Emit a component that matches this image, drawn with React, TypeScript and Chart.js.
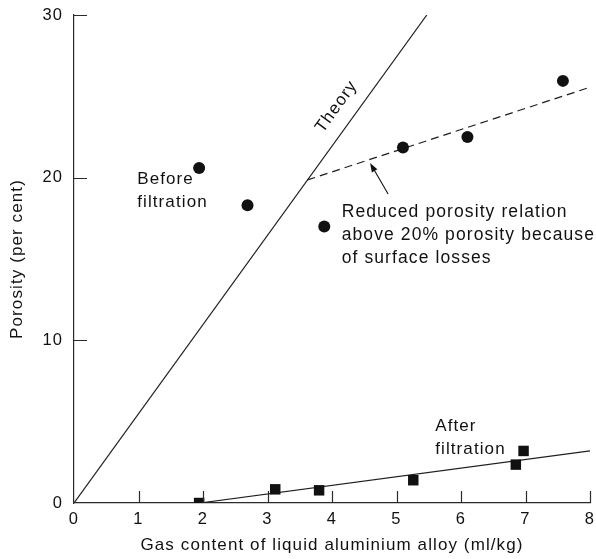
import React, { useEffect, useRef } from 'react';
import { Chart, registerables } from 'chart.js';

Chart.register(...registerables);

// ---- data ----
const beforeGas = [1.94, 2.69, 3.88, 5.1, 6.1, 7.58];
const beforePorosity = [20.6, 18.3, 17.0, 21.85, 22.5, 25.95];
const afterGas = [1.94, 3.12, 3.8, 5.26, 6.85, 6.97];
const afterPorosity = [0.0, 0.84, 0.78, 1.4, 2.36, 3.2];
const theoryGas = [0, 5.47];
const theoryPorosity = [0, 30];
const reducedGas = [3.62, 8];
const reducedPorosity = [19.86, 25.56];
const afterFitGas = [1.95, 8];
const afterFitPorosity = [0, 3.2];
const xTicks = [0, 1, 2, 3, 4, 5, 6, 7, 8];
const yTicks = [0, 10, 20, 30];
const xTitle = 'Gas content of liquid aluminium alloy (ml/kg)';
const yTitle = 'Porosity (per cent)';
const beforeNote = ['Before', 'filtration'];
const afterNote = ['After', 'filtration'];
const reducedNote = ['Reduced porosity relation', 'above 20% porosity because', 'of surface losses'];
const theoryNote = 'Theory';

const FONT = '"Liberation Sans", Arial, Helvetica, sans-serif';
const INK = '#111111';
const AXIS = '#2a2a2a';
const LS = '1.1px';
const RIGHT_GAP = 6;

const pts = (xs: number[], ys: number[]) => xs.map((v, i) => ({ x: v, y: ys[i] }));

const spacingPlugin = {
  id: 'spacing',
  beforeLayout(chart: any) { chart.ctx.letterSpacing = LS; },
  afterLayout(chart: any) {
    const ca = chart.chartArea;
    const x = chart.scales.x;
    const target = chart.width - RIGHT_GAP;
    if (ca && x && Math.abs(ca.right - target) > 0.01) {
      ca.right = target;
      ca.width = ca.right - ca.left;
      x.right = target;
      x.width = target - x.left;
      x.configure();
    }
  },
  beforeDraw(chart: any) { chart.ctx.letterSpacing = LS; },
};

const ticksPlugin = {
  id: 'inwardTicks',
  afterDraw(chart: any) {
    const { ctx, chartArea, scales } = chart;
    const x = scales.x, y = scales.y;
    ctx.save();
    ctx.strokeStyle = AXIS;
    ctx.lineWidth = 1.2;
    ctx.beginPath();
    yTicks.filter((v) => v > 0).forEach((v) => {
      const py = Math.round(y.getPixelForValue(v)) + 0.5;
      ctx.moveTo(chartArea.left, py);
      ctx.lineTo(chartArea.left + 13, py);
    });
    xTicks.filter((v) => v > 0).forEach((v) => {
      const px = Math.round(x.getPixelForValue(v)) + 0.5;
      ctx.moveTo(px, chartArea.bottom);
      ctx.lineTo(px, chartArea.bottom - 12);
    });
    ctx.stroke();
    ctx.restore();
  },
};

const notesPlugin = {
  id: 'notes',
  afterDatasetsDraw(chart: any) {
    const { ctx, scales } = chart;
    const x = scales.x, y = scales.y;
    ctx.save();
    ctx.letterSpacing = LS;
    ctx.fillStyle = INK;
    ctx.textAlign = 'left';
    ctx.textBaseline = 'alphabetic';
    const block = (lines: string[], gx: number, gy: number, lh: number) => {
      const px = x.getPixelForValue(gx);
      const py = y.getPixelForValue(gy);
      lines.forEach((t, i) => ctx.fillText(t, px, py + i * lh));
    };
    ctx.font = `17px ${FONT}`;
    block(beforeNote, 0.98, 19.59, 22.4);
    block(afterNote, 5.6, 4.43, 22.6);
    ctx.font = `17.5px ${FONT}`;
    block(reducedNote, 4.15, 17.6, 23.3);

    // Theory label along the theory line
    const x0 = x.getPixelForValue(theoryGas[0]);
    const y0 = y.getPixelForValue(theoryPorosity[0]);
    const x1 = x.getPixelForValue(theoryGas[1]);
    const y1 = y.getPixelForValue(theoryPorosity[1]);
    const ang = Math.atan2(y1 - y0, x1 - x0);
    ctx.save();
    ctx.font = `17px ${FONT}`;
    ctx.translate(x.getPixelForValue(4.07), y.getPixelForValue(24.37));
    ctx.rotate(ang);
    ctx.textAlign = 'center';
    ctx.textBaseline = 'middle';
    ctx.fillText(theoryNote, 0, 0);
    ctx.restore();

    // arrow pointing to the dashed line
    const ax = x.getPixelForValue(4.87), ay = y.getPixelForValue(19.0);
    const bx = x.getPixelForValue(4.59), by = y.getPixelForValue(20.9);
    const a = Math.atan2(by - ay, bx - ax);
    ctx.strokeStyle = INK;
    ctx.lineWidth = 1.1;
    ctx.beginPath();
    ctx.moveTo(ax, ay);
    ctx.lineTo(bx - Math.cos(a) * 5, by - Math.sin(a) * 5);
    ctx.stroke();
    const hl = 9, hw = 3.2;
    ctx.beginPath();
    ctx.moveTo(bx, by);
    ctx.lineTo(bx - hl * Math.cos(a) + hw * Math.sin(a), by - hl * Math.sin(a) - hw * Math.cos(a));
    ctx.lineTo(bx - hl * Math.cos(a) - hw * Math.sin(a), by - hl * Math.sin(a) + hw * Math.cos(a));
    ctx.closePath();
    ctx.fill();
    ctx.restore();
  },
};

export default function App() {
  const ref = useRef<HTMLCanvasElement | null>(null);

  useEffect(() => {
    document.body.style.margin = '0';
    const canvas = ref.current;
    if (!canvas) return;
    const lineStyle = { showLine: true, pointRadius: 0, borderColor: '#1e1e1e', borderWidth: 1.2, fill: false };
    const chart = new Chart(canvas, {
      type: 'scatter',
      data: {
        datasets: [
          {
            label: 'Before filtration',
            data: pts(beforeGas, beforePorosity),
            pointStyle: 'circle',
            pointRadius: 6,
            backgroundColor: '#111111',
            borderWidth: 0,
          },
          {
            label: 'After filtration',
            data: pts(afterGas, afterPorosity),
            pointStyle: 'rect',
            pointRadius: 7.4,
            backgroundColor: '#111111',
            borderWidth: 0,
          },
          { label: 'Theory', data: pts(theoryGas, theoryPorosity), ...lineStyle },
          { label: 'Reduced', data: pts(reducedGas, reducedPorosity), ...lineStyle, borderDash: [8, 5] },
          { label: 'After fit', data: pts(afterFitGas, afterFitPorosity), ...lineStyle },
        ] as any,
      },
      options: {
        responsive: false,
        animation: false,
        devicePixelRatio: 1,
        events: [],
        layout: { padding: { top: 15, right: RIGHT_GAP, bottom: 0, left: 0 } },
        plugins: { legend: { display: false }, tooltip: { enabled: false } },
        font: { family: FONT },
        scales: {
          x: {
            type: 'linear',
            min: 0,
            max: 8,
            afterFit: (s: any) => { s.height = 56; s.paddingLeft = 0; s.paddingRight = 0; },
            afterBuildTicks: (s: any) => { s.ticks = xTicks.map((v) => ({ value: v })); },
            grid: { display: true, drawOnChartArea: false, drawTicks: false },
            border: { display: true, color: AXIS, width: 1.2 },
            ticks: { color: INK, padding: 7, font: { family: FONT, size: 16.5 }, maxRotation: 0 },
            title: { display: true, text: xTitle, color: INK, font: { family: FONT, size: 17 }, padding: { top: 0, bottom: 3 } },
          },
          y: {
            type: 'linear',
            min: 0,
            max: 30,
            afterFit: (s: any) => { s.width = 74; s.paddingTop = 0; s.paddingBottom = 0; },
            afterBuildTicks: (s: any) => { s.ticks = yTicks.map((v) => ({ value: v })); },
            grid: { display: true, drawOnChartArea: false, drawTicks: false },
            border: { display: true, color: AXIS, width: 1.2 },
            ticks: { color: INK, padding: 11, font: { family: FONT, size: 16.5 } },
            title: { display: true, text: yTitle, color: INK, font: { family: FONT, size: 17 }, padding: { top: 7, bottom: 0 } },
          },
        },
      } as any,
      plugins: [spacingPlugin, ticksPlugin, notesPlugin] as any,
    });
    return () => chart.destroy();
  }, []);

  return (
    <div style={{ width: 596, height: 559 }}>
      <canvas ref={ref} width={596} height={559} style={{ display: 'block' }} />
    </div>
  );
}
